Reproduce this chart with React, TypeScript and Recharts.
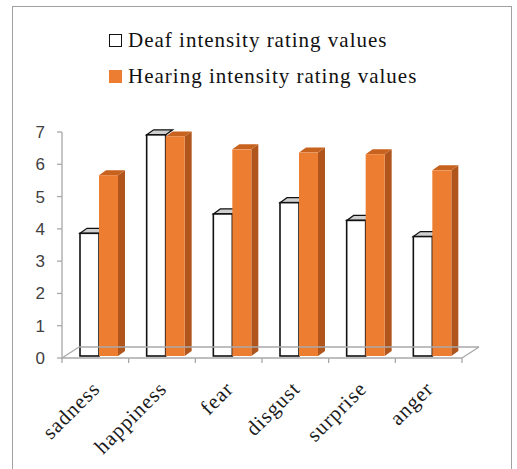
import { BarChart, Bar, XAxis, YAxis, Legend } from 'recharts';

const categories = ['sadness', 'happiness', 'fear', 'disgust', 'surprise', 'anger'];
const deafValues = [3.8, 6.85, 4.4, 4.75, 4.2, 3.7];
const hearingValues = [5.6, 6.8, 6.4, 6.3, 6.25, 5.75];
const yTicks = [0, 1, 2, 3, 4, 5, 6, 7];
const seriesNames = ['Deaf intensity rating values', 'Hearing intensity rating values'];

const data = categories.map((name, i) => ({
  name,
  deaf: deafValues[i],
  hearing: hearingValues[i],
}));

const ORANGE = '#ED7D31';
const AXIS = '#a8a8a8';
const SERIF = '"Liberation Serif", "Times New Roman", serif';
// fake 3d depth of the bars and of the floor
const DX = 7;
const DY = 5;
const FLOOR_DX = 17;
const FLOOR_DY = 11;
const SHIFT_X = 4;
const SHIFT_Y = -2;

function DeafBar(props: any) {
  const { x, y, width, height } = props;
  if (!height) return null;
  const x0 = x + SHIFT_X;
  const y0 = y + SHIFT_Y;
  return (
    <g>
      <polygon
        points={`${x0},${y0} ${x0 + DX},${y0 - DY} ${x0 + width + DX},${y0 - DY} ${x0 + width},${y0}`}
        fill="#cfcfcf"
        stroke="#111"
        strokeWidth={1.2}
      />
      <rect x={x0} y={y0} width={width} height={height} fill="#fff" stroke="#111" strokeWidth={1.6} />
    </g>
  );
}

function HearingBar(props: any) {
  const { x, y, width, height } = props;
  if (!height) return null;
  const x0 = x + SHIFT_X;
  const y0 = y + SHIFT_Y;
  return (
    <g>
      <polygon
        points={`${x0 + width},${y0} ${x0 + width + DX},${y0 - DY} ${x0 + width + DX},${y0 + height - DY} ${x0 + width},${y0 + height}`}
        fill="#b0561c"
      />
      <polygon
        points={`${x0},${y0} ${x0 + DX},${y0 - DY} ${x0 + width + DX},${y0 - DY} ${x0 + width},${y0}`}
        fill="#c8621f"
      />
      <rect x={x0} y={y0} width={width} height={height} fill={ORANGE} />
    </g>
  );
}

function CategoryTick(props: any) {
  const { x, y, payload } = props;
  const half = payload?.offset ?? 0;
  const isFirst = payload?.value === categories[0];
  const isLast = payload?.value === categories[categories.length - 1];
  return (
    <g>
      <line x1={x - half + FLOOR_DX} y1={y - FLOOR_DY} x2={x + half + FLOOR_DX} y2={y - FLOOR_DY} stroke={AXIS} strokeWidth={1.3} />
      <line x1={x - half} y1={y} x2={x - half} y2={y + 5} stroke={AXIS} strokeWidth={1.3} />
      {isFirst && (
        <line x1={x - half} y1={y} x2={x - half + FLOOR_DX} y2={y - FLOOR_DY} stroke={AXIS} strokeWidth={1.3} />
      )}
      {isLast && (
        <g>
          <line x1={x + half} y1={y} x2={x + half} y2={y + 5} stroke={AXIS} strokeWidth={1.3} />
          <line x1={x + half} y1={y} x2={x + half + FLOOR_DX} y2={y - FLOOR_DY} stroke={AXIS} strokeWidth={1.3} />
        </g>
      )}
      <text
        transform={`translate(${x + 6},${y + 32}) rotate(-45)`}
        textAnchor="end"
        fontFamily={SERIF}
        fontSize={21}
        letterSpacing={1}
        fill="#1a1a1a"
      >
        {payload?.value}
      </text>
    </g>
  );
}

function LegendContent(props: any) {
  const items = props.payload && props.payload.length ? props.payload : [];
  return (
    <div style={{ fontFamily: SERIF, fontSize: 21, letterSpacing: 1, color: '#111' }}>
      {seriesNames.map((n, i) => {
        const entry = items[i];
        const hollow = i === 0;
        return (
          <div key={n} style={{ display: 'flex', alignItems: 'center', height: 36, whiteSpace: 'nowrap' }}>
            <span
              style={{
                display: 'inline-block',
                width: 13,
                height: 13,
                boxSizing: 'border-box',
                border: hollow ? '1.5px solid #111' : 'none',
                background: hollow ? '#fff' : entry?.color ?? ORANGE,
                marginRight: 6,
              }}
            />
            {entry?.value ?? n}
          </div>
        );
      })}
    </div>
  );
}

export default function App() {
  return (
    <div style={{ position: 'absolute', left: 0, top: 0, width: 517, height: 469, background: '#fff', overflow: 'hidden' }}>
      <div
        style={{
          position: 'absolute',
          left: 12,
          top: 6,
          width: 500,
          height: 480,
          border: '1.5px solid #a0a0a0',
          boxSizing: 'border-box',
        }}
      />
      <div style={{ position: 'absolute', left: 0, top: 0 }}>
        <BarChart
          width={517}
          height={469}
          data={data}
          margin={{ top: 132, right: 55, left: 22, bottom: 11 }}
          barSize={19}
          barGap={0}
        >
          <XAxis
            dataKey="name"
            height={100}
            tickLine={false}
            tickSize={0}
            tickMargin={0}
            interval={0}
            axisLine={{ stroke: AXIS, strokeWidth: 1.3 }}
            tick={<CategoryTick />}
          />
          <YAxis
            width={40}
            domain={[0, 7]}
            ticks={yTicks}
            interval={0}
            tickSize={5}
            tickMargin={12}
            axisLine={{ stroke: AXIS, strokeWidth: 1.3 }}
            tickLine={{ stroke: AXIS, strokeWidth: 1.3 }}
            tick={{ fill: '#404040', fontSize: 17, fontFamily: '"Liberation Sans", Arial, sans-serif' }}
          />
          <Legend
            layout="vertical"
            verticalAlign="middle"
            align="center"
            wrapperStyle={{ top: 22, left: 109, width: 'auto' }}
            content={<LegendContent />}
          />
          <Bar dataKey="deaf" name={seriesNames[0]} fill="#ffffff" shape={<DeafBar />} isAnimationActive={false} />
          <Bar dataKey="hearing" name={seriesNames[1]} fill={ORANGE} shape={<HearingBar />} isAnimationActive={false} />
        </BarChart>
      </div>
    </div>
  );
}
